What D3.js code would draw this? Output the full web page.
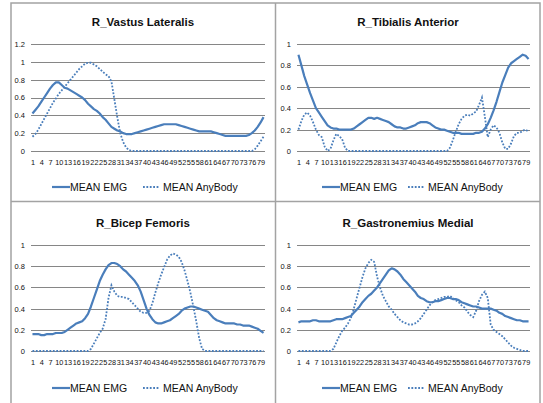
<!DOCTYPE html>
<html>
<head>
<meta charset="utf-8">
<script src="https://cdn.jsdelivr.net/npm/d3@7"></script>
<style>
  body { margin: 0; background: #fff; }
  svg { display: block; font-family: "Liberation Sans", Arial, sans-serif; }
</style>
</head>
<body>
<svg id="canvas"></svg>
<script>
let width = 543;
let height = 403;

// category numbers 1..80 (x axis), every 3rd one labelled
let categories = d3.range(1, 81);
let tickLabels = categories.filter(d => (d - 1) % 3 === 0);

let seriesNames = ['MEAN EMG', 'MEAN AnyBody'];

let vastusEmg = [0.42,0.46,0.50,0.55,0.60,0.65,0.70,0.74,0.77,0.77,
  0.74,0.71,0.70,0.68,0.66,0.64,0.62,0.60,0.57,0.53,
  0.50,0.47,0.45,0.42,0.38,0.35,0.31,0.27,0.25,0.23,
  0.22,0.20,0.19,0.19,0.19,0.20,0.21,0.22,0.23,0.24,
  0.25,0.26,0.27,0.28,0.29,0.30,0.30,0.30,0.30,0.30,
  0.29,0.28,0.27,0.26,0.25,0.24,0.23,0.22,0.22,0.22,
  0.22,0.22,0.21,0.20,0.19,0.18,0.17,0.17,0.17,0.17,
  0.17,0.17,0.17,0.17,0.18,0.20,0.23,0.27,0.32,0.38];
let vastusAny = [0.16,0.19,0.24,0.30,0.36,0.42,0.48,0.54,0.59,0.64,
  0.68,0.72,0.76,0.80,0.84,0.88,0.92,0.95,0.98,0.99,
  0.99,0.97,0.95,0.92,0.89,0.86,0.84,0.78,0.58,0.38,
  0.20,0.10,0.04,0.01,0,0,0,0,0,0,
  0,0,0,0,0,0,0,0,0,0,
  0,0,0,0,0,0,0,0,0,0,
  0,0,0,0,0,0,0,0,0,0,
  0,0,0,0,0,0,0.02,0.06,0.11,0.16];

let tibialisEmg = [0.90,0.80,0.70,0.62,0.54,0.47,0.40,0.36,0.32,0.28,
  0.24,0.22,0.21,0.21,0.20,0.20,0.20,0.20,0.20,0.21,
  0.23,0.25,0.27,0.29,0.31,0.31,0.30,0.31,0.30,0.29,
  0.28,0.27,0.25,0.23,0.22,0.22,0.21,0.21,0.22,0.23,
  0.24,0.26,0.27,0.27,0.27,0.26,0.24,0.22,0.21,0.20,
  0.20,0.19,0.18,0.17,0.17,0.17,0.16,0.16,0.16,0.16,
  0.16,0.17,0.17,0.18,0.21,0.25,0.31,0.38,0.46,0.55,
  0.64,0.71,0.78,0.82,0.84,0.86,0.88,0.90,0.89,0.86];
let tibialisAny = [0.20,0.28,0.34,0.36,0.33,0.27,0.20,0.15,0.13,0.04,
  0,0.02,0.10,0.16,0.14,0.11,0.03,0,0,0,
  0,0,0,0,0,0,0,0,0,0,
  0,0,0,0,0,0,0,0,0,0,
  0,0,0,0,0,0,0,0,0,0,
  0,0,0.03,0.10,0.18,0.25,0.30,0.33,0.34,0.33,
  0.35,0.37,0.43,0.50,0.32,0.13,0.20,0.24,0.22,0.17,
  0.08,0.02,0.02,0.07,0.14,0.17,0.17,0.19,0.20,0.18];

let bicepEmg = [0.16,0.16,0.16,0.15,0.15,0.16,0.16,0.16,0.17,0.17,
  0.17,0.18,0.20,0.22,0.24,0.26,0.27,0.28,0.31,0.35,
  0.42,0.50,0.58,0.66,0.72,0.77,0.81,0.83,0.83,0.82,
  0.80,0.77,0.75,0.72,0.69,0.66,0.62,0.56,0.48,0.40,
  0.34,0.30,0.27,0.26,0.26,0.27,0.28,0.29,0.31,0.33,
  0.35,0.38,0.40,0.41,0.42,0.42,0.41,0.40,0.39,0.38,
  0.37,0.34,0.31,0.29,0.28,0.27,0.26,0.26,0.26,0.26,
  0.25,0.25,0.24,0.24,0.24,0.23,0.22,0.21,0.19,0.17];
let bicepAny = [0,0,0,0,0,0,0,0,0,0,
  0,0,0,0,0,0,0,0,0,0,
  0.02,0.07,0.12,0.17,0.21,0.30,0.50,0.62,0.56,0.52,
  0.51,0.51,0.50,0.49,0.46,0.43,0.40,0.37,0.36,0.36,
  0.38,0.45,0.55,0.64,0.72,0.79,0.86,0.90,0.92,0.91,
  0.89,0.84,0.76,0.66,0.55,0.42,0.28,0.12,0.02,0,
  0,0,0,0,0,0,0,0,0,0,
  0,0,0,0,0,0,0,0,0,0];

let gastroEmg = [0.27,0.28,0.28,0.28,0.28,0.29,0.29,0.28,0.28,0.28,
  0.28,0.28,0.29,0.30,0.30,0.30,0.31,0.32,0.33,0.36,
  0.39,0.42,0.46,0.49,0.52,0.54,0.57,0.60,0.64,0.68,
  0.72,0.76,0.78,0.77,0.75,0.72,0.68,0.65,0.62,0.59,
  0.56,0.52,0.50,0.49,0.47,0.46,0.46,0.47,0.47,0.48,
  0.49,0.50,0.50,0.49,0.49,0.48,0.46,0.45,0.44,0.43,
  0.42,0.42,0.41,0.40,0.40,0.40,0.40,0.39,0.38,0.36,
  0.35,0.33,0.32,0.31,0.30,0.29,0.29,0.28,0.28,0.28];
let gastroAny = [0,0,0,0,0,0,0,0,0,0,
  0,0,0.02,0.08,0.14,0.19,0.22,0.26,0.31,0.40,
  0.50,0.60,0.70,0.78,0.83,0.86,0.84,0.70,0.60,0.52,
  0.47,0.42,0.39,0.35,0.32,0.29,0.27,0.26,0.25,0.25,
  0.26,0.28,0.31,0.35,0.39,0.43,0.46,0.48,0.49,0.50,
  0.51,0.51,0.52,0.50,0.48,0.46,0.43,0.41,0.37,0.34,
  0.32,0.38,0.47,0.53,0.56,0.50,0.25,0.20,0.18,0.16,
  0.14,0.11,0.08,0.05,0.03,0.02,0.01,0,0,0];

let yTicksTall = [0, 0.2, 0.4, 0.6, 0.8, 1, 1.2];
let yTicksShort = [0, 0.2, 0.4, 0.6, 0.8, 1];

let titles = ['R_Vastus Lateralis', 'R_Tibialis Anterior', 'R_Bicep Femoris', 'R_Gastronemius Medial'];

let lineColor = '#4a7ebb';

// layout of the four chart panels
let panels = [
  { title: titles[0], emg: vastusEmg, any: vastusAny, ticks: yTicksTall,
    x0: 31, x1: 265, yTop: 44, yBottom: 151, ox: 11, oy: 0, legX: [52, 143] },
  { title: titles[1], emg: tibialisEmg, any: tibialisAny, ticks: yTicksShort,
    x0: 297, x1: 530, yTop: 44, yBottom: 151, ox: 276, oy: 0, legX: [322, 408] },
  { title: titles[2], emg: bicepEmg, any: bicepAny, ticks: yTicksShort,
    x0: 31, x1: 265, yTop: 245, yBottom: 351, ox: 11, oy: 201, legX: [52, 143] },
  { title: titles[3], emg: gastroEmg, any: gastroAny, ticks: yTicksShort,
    x0: 297, x1: 530, yTop: 245, yBottom: 351, ox: 276, oy: 201, legX: [322, 408] }
];

let canvas = d3.select('#canvas')
  .attr('width', width)
  .attr('height', height);

canvas.append('rect')
  .attr('width', width).attr('height', height)
  .attr('fill', '#fff');

// frame round the panels
let frame = canvas.append('g')
  .attr('stroke', '#a3a3a3')
  .attr('stroke-width', 1.5)
  .attr('fill', 'none');
frame.append('rect').attr('x', 11).attr('y', 3).attr('width', 529).attr('height', 410);
frame.append('line').attr('x1', 275.5).attr('x2', 275.5).attr('y1', 3).attr('y2', 403);
frame.append('line').attr('x1', 11).attr('x2', 540).attr('y1', 201.5).attr('y2', 201.5);

let drawPanel = (p) => {
  let g = canvas.append('g');

  let xScale = d3.scalePoint()
    .domain(categories)
    .range([p.x0, p.x1])
    .padding(0.5);

  let yScale = d3.scaleLinear()
    .domain([0, d3.max(p.ticks)])
    .range([p.yBottom, p.yTop]);

  // horizontal gridlines + y labels
  let yAxis = d3.axisLeft(yScale)
    .tickValues(p.ticks)
    .tickSize(-(p.x1 - p.x0))
    .tickPadding(6)
    .tickFormat(d => d3.format('~g')(d));

  let ya = g.append('g')
    .attr('transform', `translate(${p.x0}, 0)`)
    .call(yAxis);
  ya.select('.domain').remove();
  ya.selectAll('line').attr('stroke', '#868686').attr('stroke-width', 1)
    .attr('shape-rendering', 'crispEdges');
  ya.selectAll('text')
    .attr('font-size', 7.5)
    .attr('fill', '#111')
    .attr('font-family', '"Liberation Sans", Arial, sans-serif');

  // x labels
  let xAxis = d3.axisBottom(xScale)
    .tickValues(tickLabels)
    .tickSize(0)
    .tickPadding(9);

  let xa = g.append('g')
    .attr('transform', `translate(0, ${p.yBottom})`)
    .call(xAxis);
  xa.select('.domain').remove();
  xa.selectAll('text')
    .attr('font-size', 7.3)
    .attr('fill', '#111')
    .attr('font-family', '"Liberation Sans", Arial, sans-serif');

  let line = d3.line()
    .x((d, i) => xScale(categories[i]))
    .y(d => yScale(d));

  g.append('path')
    .datum(p.any)
    .attr('d', line)
    .attr('fill', 'none')
    .attr('stroke', lineColor)
    .attr('stroke-width', 1.8)
    .attr('stroke-dasharray', '1.8,1.6');

  g.append('path')
    .datum(p.emg)
    .attr('d', line)
    .attr('fill', 'none')
    .attr('stroke', lineColor)
    .attr('stroke-width', 2.2)
    .attr('stroke-linejoin', 'round');

  // title
  g.append('text')
    .attr('x', p.ox + 132)
    .attr('y', p.oy + 26)
    .attr('text-anchor', 'middle')
    .attr('font-size', 11.5)
    .attr('font-weight', 'bold')
    .attr('fill', '#111')
    .text(p.title);

  // legend
  let ly = p.oy + 187;
  let leg = g.append('g');
  leg.append('line')
    .attr('x1', p.legX[0]).attr('x2', p.legX[0] + 18)
    .attr('y1', ly).attr('y2', ly)
    .attr('stroke', lineColor).attr('stroke-width', 2.2);
  leg.append('text')
    .attr('x', p.legX[0] + 18).attr('y', ly + 4)
    .attr('font-size', 10.5).attr('fill', '#111')
    .text(seriesNames[0]);
  leg.append('line')
    .attr('x1', p.legX[1]).attr('x2', p.legX[1] + 17)
    .attr('y1', ly).attr('y2', ly)
    .attr('stroke', lineColor).attr('stroke-width', 1.8)
    .attr('stroke-dasharray', '1.8,1.6');
  leg.append('text')
    .attr('x', p.legX[1] + 20).attr('y', ly + 4)
    .attr('font-size', 10.5).attr('fill', '#111')
    .text(seriesNames[1]);
};

panels.forEach(drawPanel);
</script>
</body>
</html>
